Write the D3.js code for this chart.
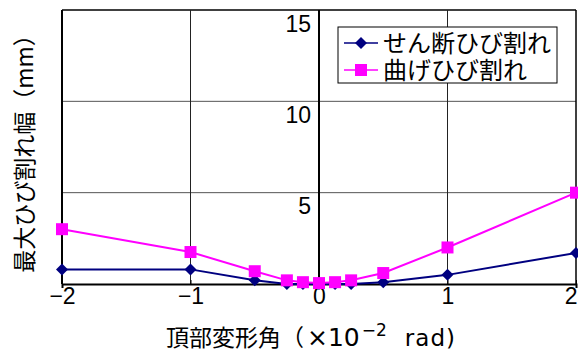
<!DOCTYPE html>
<html>
<head>
<meta charset="utf-8">
<script src="https://cdn.jsdelivr.net/npm/d3@7"></script>
<style>
  html, body { margin: 0; padding: 0; background: #fff; }
  svg { display: block; }
  text { font-family: "Liberation Sans", Arial, "Noto Sans CJK JP", sans-serif; fill: #000; }
  .jp { font-family: "Noto Sans CJK JP", "Liberation Sans", sans-serif; }
  .lat { font-family: "DejaVu Sans", "Liberation Sans", sans-serif; }
</style>
</head>
<body>
<svg id="chart" width="578" height="354"></svg>
<script>
// Rotation angle at the top (×10^-2 rad)
const angles = [-2, -1, -0.5, -0.25, -0.125, 0, 0.125, 0.25, 0.5, 1, 2];
// Maximum crack width (mm)
const shearWidth   = [0.8, 0.8, 0.2, 0.0, 0.0, 0.0, 0.0, 0.0, 0.1, 0.5, 1.7];
const flexureWidth = [3.0, 1.75, 0.7, 0.2, 0.1, 0.05, 0.1, 0.2, 0.6, 2.0, 5.0];
const seriesNames = ["せん断ひび割れ", "曲げひび割れ"];
const xTicks = [-2, -1, 0, 1, 2];
const yTicks = [5, 10, 15];
const xTitleParts = ["頂部変形角（", "×10", "\u22122", "rad)"];
const yTitle = "最大ひび割れ幅（mm）";

const svg = d3.select("#chart");
const plotL = 62, plotR = 576, plotT = 10, plotB = 284;

const x = d3.scaleLinear().domain([-2, 2]).range([plotL, plotR]);
const y = d3.scaleLinear().domain([0, 15]).range([plotB, plotT]);

const series = [
  { name: seriesNames[0], values: shearWidth, color: "#000080", marker: "diamond" },
  { name: seriesNames[1], values: flexureWidth, color: "#ff00ff", marker: "square" }
];

// horizontal gridlines
svg.append("g").selectAll("line").data(yTicks).join("line")
  .attr("x1", plotL).attr("x2", plotR)
  .attr("y1", d => y(d)).attr("y2", d => y(d))
  .attr("stroke", d => d === 15 ? "#000" : "#555").attr("stroke-width", d => d === 15 ? 1.5 : 1);

// vertical gridlines at ±1
svg.append("g").selectAll("line").data([-1, 1]).join("line")
  .attr("x1", d => x(d)).attr("x2", d => x(d))
  .attr("y1", plotT).attr("y2", plotB)
  .attr("stroke", "#222").attr("stroke-width", 1);

// plot frame: left and right borders
svg.append("line").attr("x1", plotL).attr("x2", plotL).attr("y1", plotT).attr("y2", plotB)
  .attr("stroke", "#000").attr("stroke-width", 2);
svg.append("line").attr("x1", plotR).attr("x2", plotR).attr("y1", plotT).attr("y2", plotB)
  .attr("stroke", "#000").attr("stroke-width", 1.5);

// vertical axis crossing at x = 0, with labels on its left, below each tick
const yAxis = svg.append("g").attr("transform", `translate(${x(0)},0)`);
yAxis.append("line").attr("y1", plotT).attr("y2", plotB).attr("stroke", "#000").attr("stroke-width", 2);
yAxis.selectAll("text").data(yTicks).join("text")
  .attr("x", -8).attr("y", d => y(d) + 5)
  .attr("dy", "0.72em")
  .attr("text-anchor", "end")
  .attr("font-size", 23)
  .text(d => d);

// horizontal axis at y = 0
const xAxis = d3.axisBottom(x).tickValues(xTicks).tickSize(4)
  .tickFormat(d => (d < 0 ? "\u2212" + Math.abs(d) : String(d)));
const gx = svg.append("g").attr("transform", `translate(0,${plotB})`).call(xAxis);
gx.select(".domain").attr("stroke", "#000").attr("stroke-width", 2);
gx.selectAll(".tick line").attr("stroke", "#000").attr("y2", 0).attr("y1", -4);
gx.selectAll(".tick text")
  .attr("font-family", "'Liberation Sans', Arial, sans-serif")
  .attr("font-size", 23).attr("fill", "#000").attr("y", 3).attr("dy", "0.72em")
  .attr("text-anchor", d => d === 2 ? "end" : "middle")
  .attr("dx", d => d === 2 ? 1 : 0);

// series lines and markers
const line = d3.line().x((d, i) => x(angles[i])).y(d => y(d));
const diamond = s => `M0,${-s}L${s},0L0,${s}L${-s},0Z`;
const square = s => `M${-s},${-s}H${s}V${s}H${-s}Z`;

series.forEach(s => {
  svg.append("path").datum(s.values)
    .attr("d", line).attr("fill", "none")
    .attr("stroke", s.color).attr("stroke-width", 2);
  svg.append("g").selectAll("path").data(s.values).join("path")
    .attr("transform", (d, i) => `translate(${x(angles[i])},${y(d)})`)
    .attr("d", s.marker === "diamond" ? diamond(6) : square(6))
    .attr("fill", s.color);
});

// legend
const lg = svg.append("g").attr("transform", "translate(338,27)");
lg.append("rect").attr("width", 219).attr("height", 56)
  .attr("fill", "#fff").attr("stroke", "#000").attr("stroke-width", 1);
series.forEach((s, i) => {
  const row = lg.append("g").attr("transform", `translate(0,${16 + i * 27})`);
  row.append("line").attr("x1", 6).attr("x2", 40).attr("stroke", s.color).attr("stroke-width", 1.5);
  row.append("path").attr("transform", "translate(23,0)")
    .attr("d", s.marker === "diamond" ? diamond(6) : square(6)).attr("fill", s.color);
  row.append("text").attr("class", "jp").attr("x", 45).attr("dy", "0.36em")
    .attr("font-size", 24).text(s.name);
});

// axis titles
const xt = svg.append("text").attr("class", "jp").attr("x", 166).attr("y", 346)
  .attr("font-size", 23);
xt.append("tspan").text(xTitleParts[0]);
xt.append("tspan").attr("class", "lat").attr("dx", 3).attr("font-size", 25)
  .text(xTitleParts[1]);
xt.append("tspan").attr("class", "lat").attr("dy", -10).attr("dx", 2).attr("font-size", 17)
  .text(xTitleParts[2]);
xt.append("tspan").attr("class", "lat").attr("dy", 10).attr("dx", 18)
  .attr("font-size", 23).attr("letter-spacing", 1).text(xTitleParts[3]);

svg.append("text").attr("class", "jp")
  .attr("transform", "translate(33,148) rotate(-90)")
  .attr("text-anchor", "middle").attr("font-size", 23)
  .text(yTitle);
</script>
</body>
</html>
